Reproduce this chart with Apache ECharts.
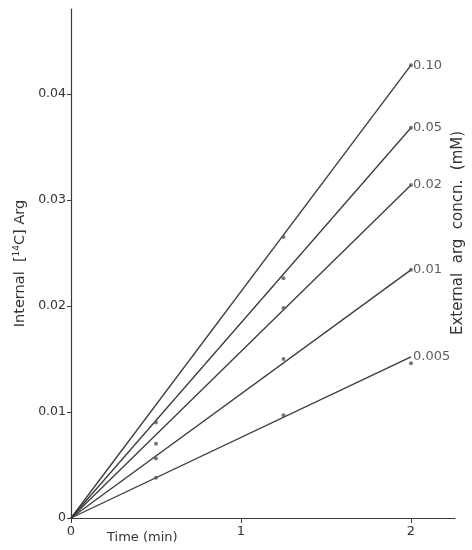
<!DOCTYPE html>
<html>
<head>
<meta charset="utf-8">
<script src="https://cdn.jsdelivr.net/npm/echarts@6/dist/echarts.min.js"></script>
<style>
html,body{margin:0;padding:0;background:#fff;}
#chart{width:472px;height:550px;}
</style>
</head>
<body>
<div id="chart"></div>
<script>
// 外部浓度 (mM)
var concNames = ['0.10', '0.05', '0.02', '0.01', '0.005'];
// 时间点 (min)
var times = [0.5, 1.25, 2];
// 拟合直线在 t=2 的终点值
var lineEnds = [0.0427, 0.0368, 0.0314, 0.0234, 0.0152];
// 测量点 (按 times 对应)
var pts010 = [null, 0.0265, 0.0427];
var pts005 = [0.0090, 0.0226, 0.0368];
var pts002 = [0.0070, 0.0198, 0.0314];
var pts001 = [0.0056, 0.0150, 0.0234];
var pts0005 = [0.0038, 0.0097, 0.0146];
var allPts = [pts010, pts005, pts002, pts001, pts0005];

var yTicks = [0, 0.01, 0.02, 0.03, 0.04];
var xTicks = [0, 1, 2];

var lineColor = '#3a3a3a';
var txtColor = '#333';
var fontFam = 'DejaVu Sans';

var myChart = echarts.init(document.getElementById('chart'));

var series = [];
for (var i = 0; i < concNames.length; i++) {
	// 直线
	series.push({
		type: 'line',
		data: [[0, 0], [2, lineEnds[i]]],
		symbol: 'none',
		lineStyle: {color: lineColor, width: 1.3},
		silent: true,
		z: 2
	});
	// 测量点
	var d = [];
	for (var j = 0; j < times.length; j++) {
		if (allPts[i][j] != null) d.push([times[j], allPts[i][j]]);
	}
	series.push({
		type: 'scatter',
		data: d,
		symbolSize: 4,
		itemStyle: {color: '#555'},
		z: 3
	});
	// 终点标签
	series.push({
		type: 'scatter',
		data: [[2, lineEnds[i]]],
		symbolSize: 0,
		label: {
			show: true,
			position: 'right',
			distance: 2,
			formatter: concNames[i],
			color: txtColor,
			fontSize: 13,
			fontFamily: fontFam
		},
		z: 4
	});
}

var option = {
	animation: false,
	backgroundColor: '#fff',
	grid: {left: 71, top: 9, width: 384, height: 509},
	xAxis: {
		type: 'value',
		min: 0,
		max: 2.259,
		axisLine: {show: true, lineStyle: {color: lineColor, width: 1.2}},
		axisTick: {show: true, customValues: xTicks, length: 5, inside: false, lineStyle: {color: lineColor}},
		axisLabel: {customValues: xTicks, color: txtColor, fontSize: 13, fontFamily: fontFam, margin: 7},
		splitLine: {show: false}
	},
	yAxis: {
		type: 'value',
		min: 0,
		max: 0.048,
		name: '{a|Internal  [}{s|14}{a|C] Arg}',
		nameLocation: 'middle',
		nameRotate: 90,
		nameGap: 43,
		nameTextStyle: {
			rich: {
				a: {fontSize: 14.5, color: txtColor, fontFamily: fontFam},
				s: {fontSize: 9, color: txtColor, fontFamily: fontFam, verticalAlign: 'top', padding: [0, 0, 6, 0]}
			}
		},
		axisLine: {show: true, lineStyle: {color: lineColor, width: 1.2}},
		axisTick: {show: true, customValues: yTicks, length: 4, lineStyle: {color: lineColor}},
		axisLabel: {
			customValues: yTicks,
			color: txtColor,
			fontSize: 12.5,
			fontFamily: fontFam,
			margin: 5,
			formatter: function (v) {
				return v === 0 ? '0' : v.toFixed(2);
			}
		},
		splitLine: {show: false}
	},
	graphic: [
		{
			type: 'text',
			left: 107,
			top: 531,
			style: {text: 'Time (min)', fill: txtColor, fontSize: 13, fontFamily: fontFam}
		},
		{
			type: 'text',
			x: 458,
			y: 233,
			rotation: Math.PI / 2,
			style: {
				text: 'External  arg  concn.  (mM)',
				fill: txtColor,
				fontSize: 15,
				fontFamily: fontFam,
				align: 'center',
				verticalAlign: 'middle'
			}
		}
	],
	series: series
};
myChart.setOption(option);
</script>
</body>
</html>
